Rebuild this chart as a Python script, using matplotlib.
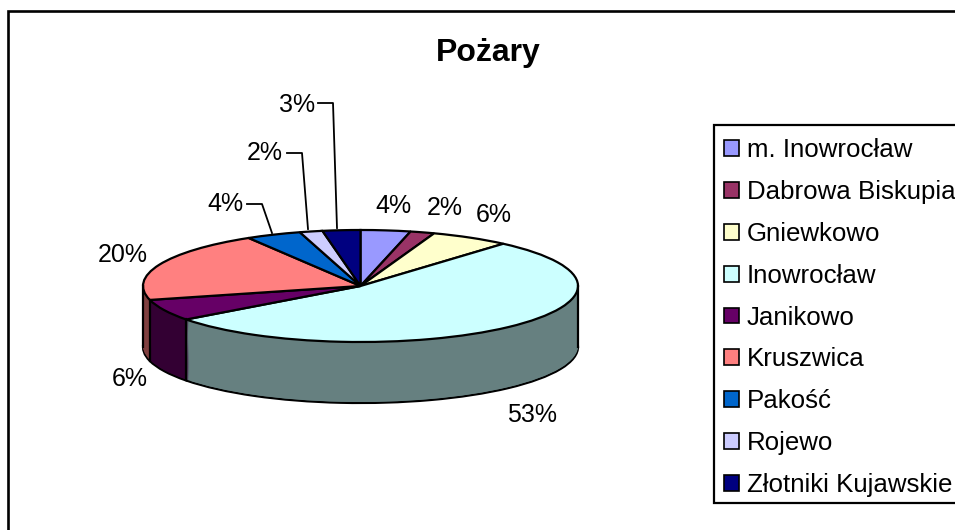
import numpy as np
import matplotlib
matplotlib.use("Agg")
import matplotlib.pyplot as plt
from matplotlib.lines import Line2D
from matplotlib.patches import Rectangle, Patch

plt.rcParams["font.family"] = ["Liberation Sans", "DejaVu Sans"]

# === Data ===
categories = ["m. Inowrocław", "Dabrowa Biskupia", "Gniewkowo", "Inowrocław", "Janikowo",
              "Kruszwica", "Pakość", "Rojewo", "Złotniki Kujawskie"]
values = [3.7, 1.8, 5.9, 53.4, 6.2, 20.4, 4.1, 1.7, 2.8]
top_colors = ["#9999FF", "#993366", "#FFFFCC", "#CCFFFF", "#660066",
              "#FF8080", "#0066CC", "#CCCCFF", "#000080"]
side_colors = ["#4C4C80", "#4C1933", "#808066", "#668080", "#330033",
               "#804040", "#003366", "#666680", "#000040"]

W, H = 955, 530


def fx(x):
    return x / W


def fy(y):
    return 1 - y / H


fig = plt.figure(figsize=(W / 100, H / 100), dpi=100, facecolor="white")

# Outer chart frame, only its left and top sides are inside the picture
fig.add_artist(Rectangle((fx(8), fy(600)), fx(1000), fy(10.5) - fy(600), transform=fig.transFigure,
                         facecolor="white", edgecolor="black", linewidth=1.9, zorder=-5))

# === Pie: the axes box is the top ellipse, so the unit circle gets squashed ===
left, right, top, bottom = 143, 578, 230, 342
ax = fig.add_axes([fx(left), fy(bottom), (right - left) / W, (bottom - top) / H])
depth = 61 / ((bottom - top) / 2)  # wall height in data units

# Walls: stack of dark pies going down
for d in np.linspace(depth, 0.02, 62):
    edge = "black" if d == depth else "none"
    ax.pie(values, colors=side_colors, startangle=90, counterclock=False, center=(0, -d),
           wedgeprops={"edgecolor": edge, "linewidth": 1.6, "clip_on": False})

# Top face
wedges, _ = ax.pie(values, colors=top_colors, startangle=90, counterclock=False,
                   wedgeprops={"edgecolor": "black", "linewidth": 1.6, "clip_on": False})
ax.set_aspect("auto")
ax.set_xlim(-1, 1)
ax.set_ylim(-1, 1)
ax.axis("off")

# Vertical edges of the wall
for w in wedges:
    s = np.sin(np.radians(w.theta1))
    c = np.cos(np.radians(w.theta1))
    if s < 0:
        ax.plot([c, c], [s, s - depth], color="black", lw=1.6, clip_on=False)
for c in [-1, 1]:
    ax.plot([c, c], [0, -depth], color="black", lw=1.6, clip_on=False)

# === Texts ===
fig.text(fx(488.5), fy(53), "Pożary", fontsize=23, fontweight="bold", ha="center", va="center")

label_pos = [(393, 206), (445, 208), (494, 215), (532, 415), (130, 379),
             (123, 255), (225, 204), (265, 153), (297, 105)]
for v, (x, y) in zip(values, label_pos):
    fig.text(fx(x), fy(y), f"{v:.0f}%", fontsize=18, ha="center", va="center", color="black")

# Leader lines for the three narrow slices at the back
leaders = [([247, 262, 272], [204, 204, 233]),
           ([287, 302, 308], [153, 153, 229]),
           ([318, 333, 337], [103, 103, 228])]
for xs, ys in leaders:
    fig.add_artist(Line2D([fx(x) for x in xs], [fy(y) for y in ys],
                          transform=fig.transFigure, color="black", lw=1.3))

# === Legend ===
fig.add_artist(Rectangle((fx(714), fy(503)), fx(300), fy(125) - fy(503), transform=fig.transFigure,
                         facecolor="white", edgecolor="black", linewidth=1.6, zorder=-1))
handles = [Patch(facecolor=col, edgecolor="black", linewidth=1.2) for col in top_colors]
leg = fig.legend(handles, categories, loc="upper left", bbox_to_anchor=(fx(714), fy(128)),
                 bbox_transform=fig.transFigure, fontsize=18.6, frameon=False,
                 borderaxespad=0, borderpad=0.4,
                 handlelength=0.56, handleheight=0.56, handletextpad=0.32, labelspacing=0.69)

plt.savefig("out.png", dpi=100)
plt.close()
print(" Saved: out.png")
